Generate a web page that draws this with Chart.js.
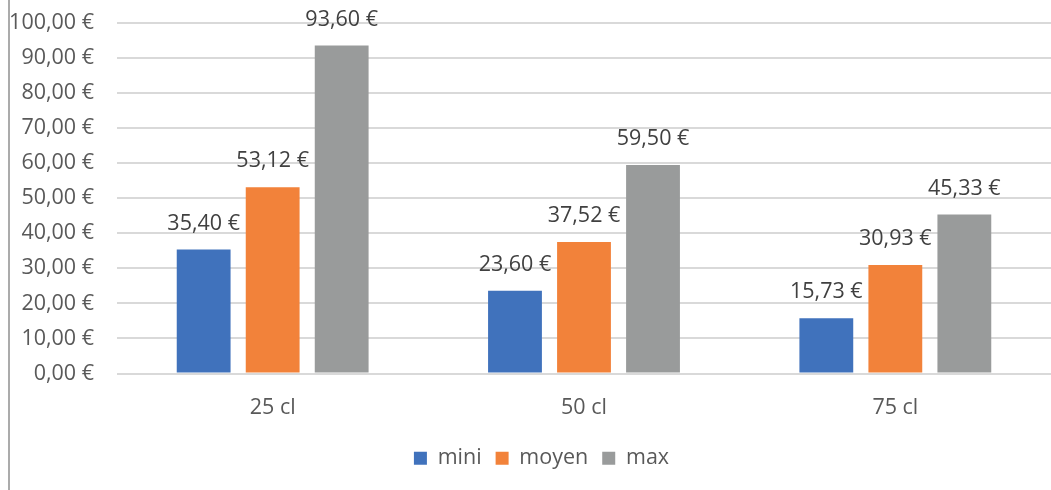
<!DOCTYPE html>
<html>
<head>
<meta charset="utf-8">
<script src="https://cdn.jsdelivr.net/npm/chart.js@4"></script>
<style>
  body { margin: 0; background: #fff; }
  #wrap { position: absolute; left: 0; top: 0; width: 1051px; height: 490px; }
  #bord { position: absolute; left: 8px; top: 0; width: 2px; height: 490px; background: #ababab; }
</style>
</head>
<body>
<div id="wrap"><canvas id="graphe"></canvas></div>
<div id="bord"></div>
<script>
const categories = ['25 cl', '50 cl', '75 cl'];
const mini = [35.40, 23.60, 15.73];
const moyen = [53.12, 37.52, 30.93];
const max = [93.60, 59.50, 45.33];
const yTicks = [0, 10, 20, 30, 40, 50, 60, 70, 80, 90, 100];

const police = 'Open Sans, sans-serif';
const taille = 21.5;

function euro(v) {
    return v.toFixed(2).replace('.', ',') + ' €';
}

// étiquettes de valeur au-dessus des barres
const etiquettes = {
    id: 'etiquettes',
    afterDatasetsDraw(chart) {
        const ctx = chart.ctx;
        ctx.save();
        ctx.font = taille + 'px ' + police;
        ctx.fillStyle = '#404040';
        ctx.textAlign = 'center';
        ctx.textBaseline = 'middle';
        chart.data.datasets.forEach((ds, i) => {
            chart.getDatasetMeta(i).data.forEach((bar, j) => {
                ctx.fillText(euro(ds.data[j]), bar.x, bar.y - 26);
            });
        });
        ctx.restore();
    }
};

// légende un peu décalée vers la droite
const decalageLegende = {
    id: 'decalageLegende',
    afterLayout(chart) {
        chart.legend.left += 32;
    }
};

new Chart(document.getElementById('graphe'), {
    type: 'bar',
    data: {
        labels: categories,
        datasets: [
            { label: 'mini', data: mini, backgroundColor: '#4072BC' },
            { label: 'moyen', data: moyen, backgroundColor: '#F2823A' },
            { label: 'max', data: max, backgroundColor: '#999B9B' }
        ]
    },
    options: {
        responsive: true,
        maintainAspectRatio: false,
        animation: false,
        categoryPercentage: 0.665,
        barPercentage: 0.78,
        layout: { padding: { top: 23, right: 0, bottom: 11, left: 0 } },
        plugins: {
            tooltip: { enabled: false },
            legend: {
                position: 'bottom',
                labels: {
                    boxWidth: 13,
                    boxHeight: 13,
                    padding: 14,
                    color: '#595959',
                    font: { family: police, size: taille }
                }
            }
        },
        scales: {
            x: {
                afterFit(scale) { scale.height = 60; },
                grid: { display: false },
                border: { display: false },
                ticks: { color: '#595959', padding: 13, font: { family: police, size: taille } }
            },
            y: {
                min: 0,
                max: 100,
                afterFit(scale) {
                    scale.width = 117;
                    scale.paddingTop = 0;
                    scale.paddingBottom = 0;
                },
                afterBuildTicks(scale) { scale.ticks = yTicks.map(v => ({ value: v })); },
                grid: { color: '#d9d9d9', lineWidth: 2, drawTicks: false },
                border: { display: false },
                ticks: {
                    color: '#595959',
                    padding: 23,
                    font: { family: police, size: taille },
                    callback: v => euro(v)
                }
            }
        }
    },
    plugins: [etiquettes, decalageLegende]
});
</script>
</body>
</html>
